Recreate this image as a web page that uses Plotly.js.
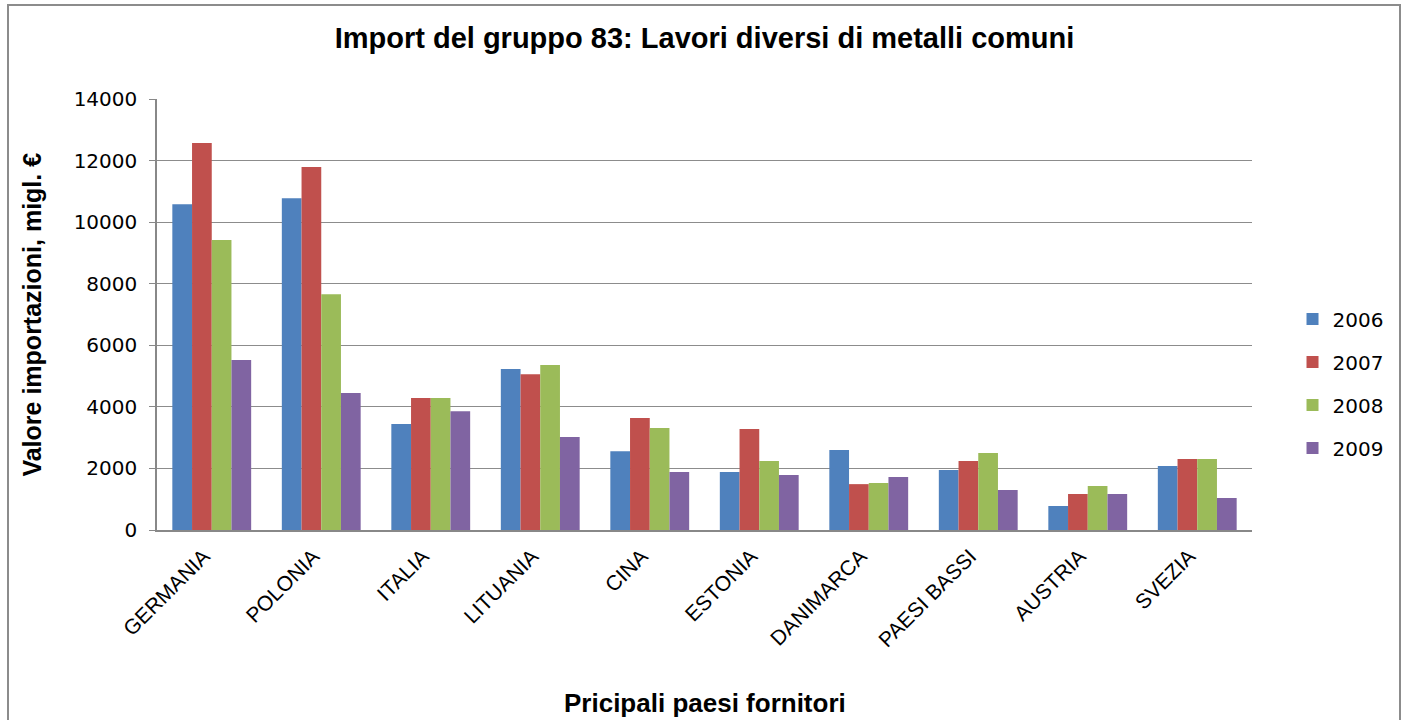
<!DOCTYPE html>
<html>
<head>
<meta charset="utf-8">
<script src="https://cdn.plot.ly/plotly-3.0.1.min.js"></script>
<style>
html,body{margin:0;padding:0;background:#fff;}
#chart{width:1407px;height:720px;}
#frame{position:absolute;left:7px;top:4px;width:1394px;height:730px;border:2px solid #8c8c8c;box-sizing:border-box;pointer-events:none;}
</style>
</head>
<body>
<div id="chart"></div>
<div id="frame"></div>
<script>
const categories = ["GERMANIA","POLONIA","ITALIA","LITUANIA","CINA","ESTONIA","DANIMARCA","PAESI BASSI","AUSTRIA","SVEZIA"];
const years = ["2006","2007","2008","2009"];
const v2006 = [10580,10780,3440,5230,2560,1880,2600,1950,780,2080];
const v2007 = [12570,11790,4290,5060,3640,3280,1490,2240,1170,2310];
const v2008 = [9420,7660,4290,5360,3310,2240,1530,2500,1430,2310];
const v2009 = [5520,4450,3860,3020,1880,1790,1720,1300,1170,1040];
const colors = ["#4f81bd","#c0504d","#9bbb59","#8064a2"];
const series = [v2006,v2007,v2008,v2009];

const traces = series.map((vals,i)=>({
  type:"bar", name:years[i], x:categories, y:vals,
  legendgroup:"g"+i,
  marker:{color:colors[i]}
}));

const AR = "Liberation Sans, Arial, sans-serif";
const DV = "DejaVu Sans, sans-serif";

const layout = {
  width:1407, height:720,
  margin:{l:157,r:155,t:99,b:190},
  paper_bgcolor:"#fff", plot_bgcolor:"#fff",
  barmode:"group", bargap:0.28, bargroupgap:0,
  title:{text:"<b>Import del gruppo 83: Lavori diversi di metalli comuni</b>",
    font:{family:AR,size:29,color:"#000"},
    x:0.5, xanchor:"center", xref:"paper", y:0.947, yanchor:"middle"},
  xaxis:{
    tickangle:-45, tickfont:{family:AR,size:21,color:"#000"},
    ticklabelshift:-8, ticklabelstandoff:4,
    showline:true, linecolor:"#888", linewidth:1.5, ticks:"", showgrid:false,
    automargin:false
  },
  yaxis:{
    range:[0,14000], dtick:2000, tickformat:"d",
    tickfont:{family:DV,size:20,color:"#000"},
    showline:true, linecolor:"#888", linewidth:1.5, ticks:"outside", ticklen:6, tickcolor:"#888",
    ticklabelstandoff:8,
    gridcolor:"#8c8c8c", gridwidth:1.3, zeroline:false,
    automargin:false
  },
  annotations:[
    {text:"<b>Valore importazioni, migl. €</b>", xref:"paper", yref:"paper",
     x:-0.115, y:0.5, xanchor:"center", yanchor:"middle", textangle:-90, showarrow:false,
     font:{family:AR,size:25,color:"#000"}},
    {text:"<b>Pricipali paesi fornitori</b>", xref:"paper", yref:"paper",
     x:0.5, y:-0.401, xanchor:"center", yanchor:"middle", showarrow:false,
     font:{family:AR,size:26,color:"#000"}}
  ],
  legend:{x:1.037, xanchor:"left", y:0.34, yanchor:"middle",
    font:{family:DV,size:20,color:"#000"},
    traceorder:"grouped", tracegroupgap:14, itemwidth:20},
  showlegend:true
};

Plotly.newPlot("chart", traces, layout, {displayModeBar:false});
</script>
</body>
</html>
